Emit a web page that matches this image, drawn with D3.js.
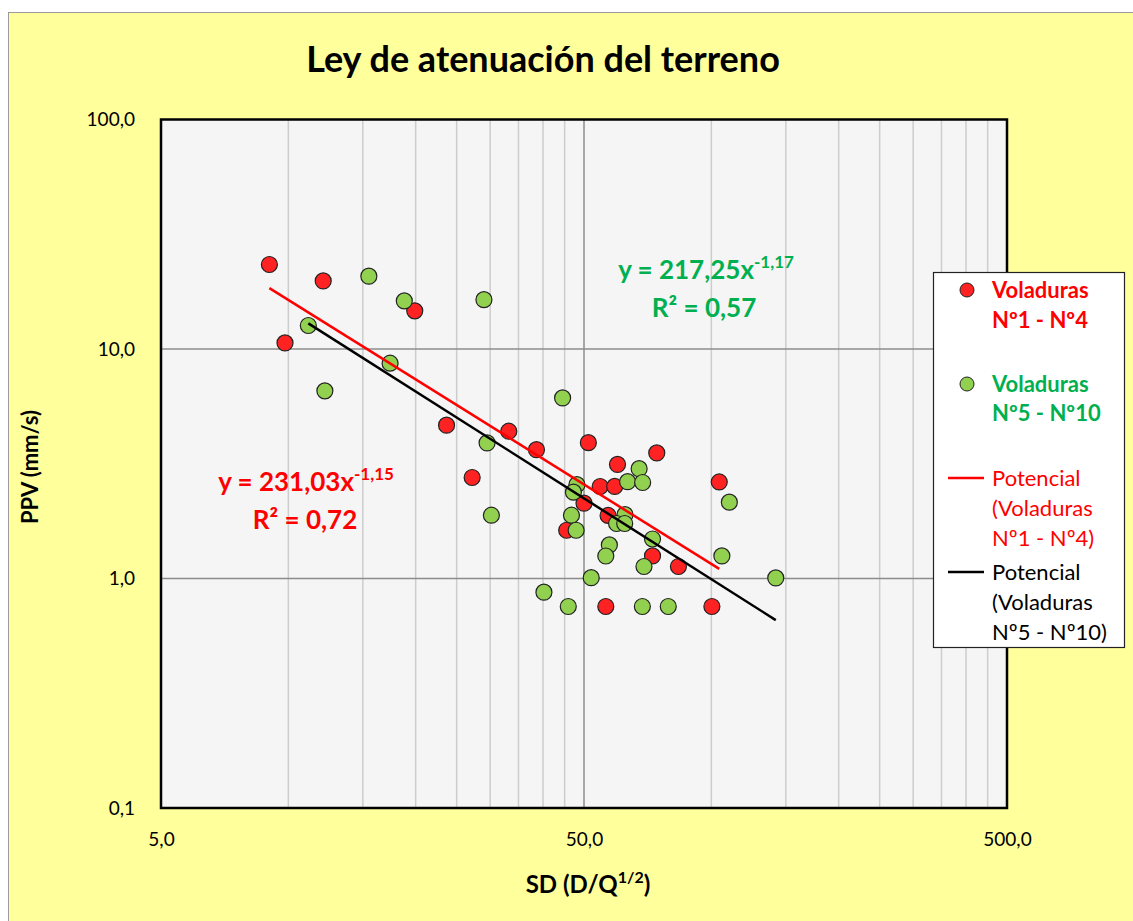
<!DOCTYPE html>
<html>
<head>
<meta charset="utf-8">
<script src="https://cdn.jsdelivr.net/npm/d3@7"></script>
<style>
  html, body { margin: 0; padding: 0; background: #ffffff; }
  svg { display: block; }
  text { font-family: Lato, "Open Sans", sans-serif; }
</style>
</head>
<body>
<svg id="chart" width="1133" height="921"></svg>
<script>
// ---- data ----
const redSD  = [9.02, 12.09, 19.9, 9.82, 23.66, 33.2, 27.2, 38.6, 51.2, 74.3, 60.0, 54.6, 59.1, 50.0, 57.0, 45.5, 72.6, 83.6, 104.4, 56.3, 100.3];
const redPPV = [23.34, 19.8, 14.66, 10.63, 4.656, 4.383, 2.755, 3.641, 3.906, 3.526, 3.141, 2.517, 2.519, 2.129, 1.882, 1.623, 1.254, 1.128, 2.634, 0.755, 0.755];
const greenSD  = [15.5, 18.8, 11.15, 17.4, 12.2, 29.0, 29.5, 30.2, 44.5, 67.5, 63.4, 68.8, 48.1, 47.2, 46.7, 47.9, 62.5, 59.7, 62.4, 72.6, 57.4, 56.3, 69.3, 110.3, 105.9, 142.0, 52.0, 40.2, 45.9, 68.7, 79.1];
const greenPPV = [20.76, 16.2, 12.66, 8.67, 6.57, 16.4, 3.898, 1.887, 6.12, 3.009, 2.641, 2.620, 2.564, 2.377, 1.887, 1.623, 1.897, 1.736, 1.736, 1.486, 1.401, 1.253, 1.128, 2.150, 1.254, 1.006, 1.008, 0.872, 0.755, 0.755, 0.755];
const trendCoefA = [231.03, 217.25];
const trendExpB  = [-1.15, -1.17];
const xTickValues = [5, 50, 500];
const xTickLabels = ["5,0", "50,0", "500,0"];
const yTickValues = [0.1, 1, 10, 100];
const yTickLabels = ["0,1", "1,0", "10,0", "100,0"];
const xMinorGrid = [10, 15, 20, 25, 30, 35, 40, 45, 100, 150, 200, 250, 300, 350, 400, 450];
const seriesNames = ["Voladuras", "Nº1 - Nº4", "Voladuras", "Nº5 - Nº10"];

const RED = "#FF0000", GREEN = "#00B050", RED_FILL = "#FF2222", GREEN_FILL = "#92D050";

const svg = d3.select("#chart");

// chart background
svg.append("rect").attr("x", 0).attr("y", 0).attr("width", 1133).attr("height", 921).attr("fill", "#ffffff");
svg.append("rect").attr("x", 8.5).attr("y", 12.5).attr("width", 1130).attr("height", 915)
  .attr("fill", "#FFFF9C").attr("stroke", "#9a9a9a").attr("stroke-width", 1);

const L = 161, R = 1007, T = 119.5, B = 808;
const x = d3.scaleLog().domain([5, 500]).range([L, R]);
const y = d3.scaleLog().domain([0.1, 100]).range([B, T]);

// plot area
svg.append("rect").attr("x", L).attr("y", T).attr("width", R - L).attr("height", B - T).attr("fill", "#F5F5F5");

// minor vertical grid
svg.append("g").selectAll("line").data(xMinorGrid).join("line")
  .attr("x1", d => x(d)).attr("x2", d => x(d)).attr("y1", T).attr("y2", B)
  .attr("stroke", "#CDCDCD").attr("stroke-width", 1.5);
// major grid
svg.append("g").selectAll("line").data(xTickValues.slice(1, -1)).join("line")
  .attr("x1", d => x(d)).attr("x2", d => x(d)).attr("y1", T).attr("y2", B)
  .attr("stroke", "#8C8C8C").attr("stroke-width", 1.5);
svg.append("g").selectAll("line").data(yTickValues.slice(1, -1)).join("line")
  .attr("x1", L).attr("x2", R).attr("y1", d => y(d)).attr("y2", d => y(d))
  .attr("stroke", "#8C8C8C").attr("stroke-width", 1.5);

// border
svg.append("rect").attr("x", L).attr("y", T).attr("width", R - L).attr("height", B - T)
  .attr("fill", "none").attr("stroke", "#000").attr("stroke-width", 2.5);

// axes labels (via d3 axes, domain/ticks hidden)
const yAxis = d3.axisLeft(y).tickValues(yTickValues).tickFormat((d, i) => yTickLabels[i]).tickSize(0).tickPadding(0);
const gy = svg.append("g").attr("transform", `translate(${135},0)`).call(yAxis);
gy.select(".domain").remove();
gy.selectAll("text").attr("font-family", "Lato").attr("font-size", 19).attr("fill", "#000");

const xAxis = d3.axisBottom(x).tickValues(xTickValues).tickFormat((d, i) => xTickLabels[i]).tickSize(0).tickPadding(0);
const gx = svg.append("g").attr("transform", `translate(0,${832})`).call(xAxis);
gx.select(".domain").remove();
gx.selectAll("text").attr("font-family", "Lato").attr("font-size", 19).attr("fill", "#000");

// title
svg.append("text").attr("x", 543).attr("y", 72).attr("text-anchor", "middle")
  .attr("font-size", 36).attr("font-weight", 700).attr("fill", "#000")
  .text("Ley de atenuación del terreno");

// axis titles
const xt = svg.append("text").attr("x", 588).attr("y", 893).attr("text-anchor", "middle")
  .attr("font-size", 24).attr("font-weight", 700).attr("fill", "#000");
xt.append("tspan").text("SD (D/Q");
xt.append("tspan").attr("font-size", 16).attr("dy", -10).text("1/2");
xt.append("tspan").attr("dy", 10).text(")");

svg.append("text").attr("transform", "translate(38,467) rotate(-90)").attr("text-anchor", "middle")
  .attr("font-size", 22).attr("font-weight", 700).attr("fill", "#000").text("PPV (mm/s)");

// markers
const redPts = redSD.map((d, i) => [d, redPPV[i]]);
const greenPts = greenSD.map((d, i) => [d, greenPPV[i]]);
svg.append("g").selectAll("circle").data(redPts).join("circle")
  .attr("cx", d => x(d[0])).attr("cy", d => y(d[1])).attr("r", 8)
  .attr("fill", RED_FILL).attr("stroke", "#222").attr("stroke-width", 1.2);
svg.append("g").selectAll("circle").data(greenPts).join("circle")
  .attr("cx", d => x(d[0])).attr("cy", d => y(d[1])).attr("r", 8)
  .attr("fill", GREEN_FILL).attr("stroke", "#222").attr("stroke-width", 1.2);

// trend lines (power fits drawn across each series' range)
const line = d3.line().x(d => x(d[0])).y(d => y(d[1]));
[[redSD, 0, RED], [greenSD, 1, "#000"]].forEach(([xs, k, col]) => {
  const ext = d3.extent(xs);
  const pts = ext.map(v => [v, trendCoefA[k] * Math.pow(v, trendExpB[k])]);
  svg.append("path").attr("d", line(pts)).attr("fill", "none").attr("stroke", col).attr("stroke-width", 2.5);
});

// equations
function eq(xc, yc, xr, a, b, r2, col) {
  const t = svg.append("text").attr("x", xc).attr("y", yc).attr("text-anchor", "middle")
    .attr("font-size", 26).attr("font-weight", 700).attr("fill", col);
  t.append("tspan").text("y = " + a + "x");
  t.append("tspan").attr("font-size", 17).attr("dy", -11).text(b);
  svg.append("text").attr("x", xr).attr("y", yc + 38).attr("text-anchor", "middle")
    .attr("font-size", 26).attr("font-weight", 700).attr("fill", col).text("R² = " + r2);
}
eq(306, 491, 305, "231,03", "-1,15", "0,72", RED);
eq(706, 279, 704, "217,25", "-1,17", "0,57", GREEN);

// legend
const lg = svg.append("g");
lg.append("rect").attr("x", 933.5).attr("y", 272.5).attr("width", 191).attr("height", 375)
  .attr("fill", "#fff").attr("stroke", "#222").attr("stroke-width", 1.2);
lg.append("circle").attr("cx", 967).attr("cy", 290).attr("r", 7).attr("fill", RED_FILL).attr("stroke", "#222");
lg.append("circle").attr("cx", 967).attr("cy", 384).attr("r", 7).attr("fill", GREEN_FILL).attr("stroke", "#222");
const lt = (txt, yy, col, bold) => lg.append("text").attr("x", 992).attr("y", yy).attr("font-size", 22)
  .attr("font-weight", bold ? 700 : 400).attr("fill", col).text(txt);
lt(seriesNames[0], 298, RED, true);
lt(seriesNames[1], 328, RED, true);
lt(seriesNames[2], 392, GREEN, true);
lt(seriesNames[3], 421, GREEN, true);
lg.append("line").attr("x1", 948).attr("x2", 984).attr("y1", 478).attr("y2", 478).attr("stroke", RED).attr("stroke-width", 2.5);
lt("Potencial", 486, RED, false);
lt("(Voladuras", 516, RED, false);
lt("Nº1 - Nº4)", 546, RED, false);
lg.append("line").attr("x1", 948).attr("x2", 984).attr("y1", 572).attr("y2", 572).attr("stroke", "#000").attr("stroke-width", 2.5);
lt("Potencial", 580, "#000", false);
lt("(Voladuras", 610, "#000", false);
lt("Nº5 - Nº10)", 640, "#000", false);
</script>
</body>
</html>
